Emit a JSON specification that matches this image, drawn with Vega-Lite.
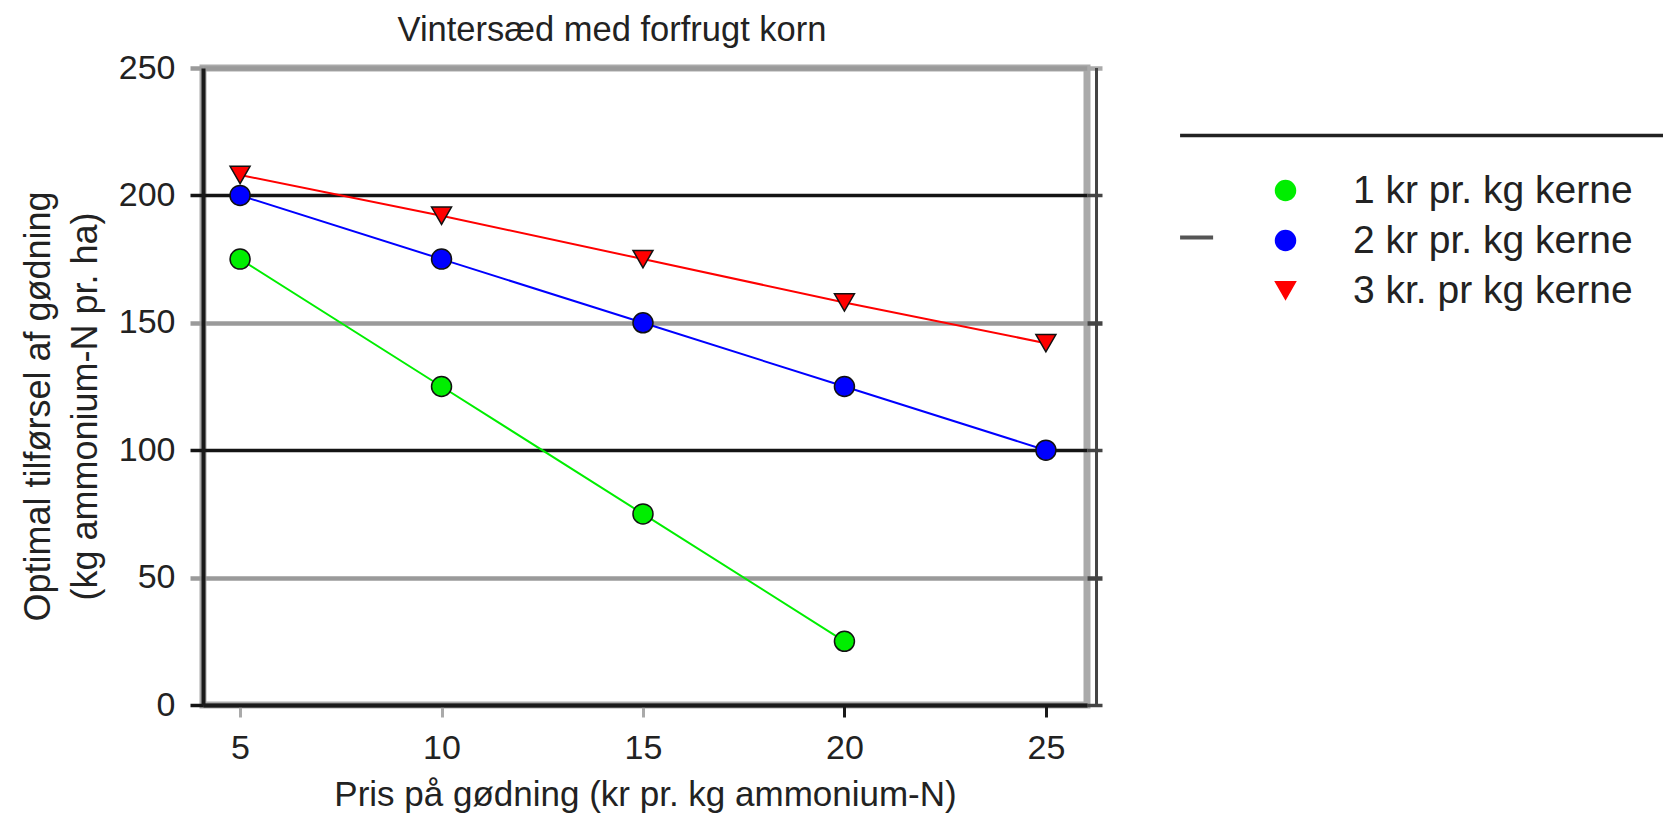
{
  "$schema": "https://vega.github.io/schema/vega-lite/v6.json",
  "width": 884,
  "height": 637,
  "autosize": {"type": "none"},
  "padding": {"left": 203, "top": 68, "right": 576, "bottom": 112},
  "background": "white",
  "config": {
    "font": "Liberation Sans",
    "view": {"stroke": "#aaaaaa", "strokeWidth": 7},
    "axis": {"labelFont": "Liberation Sans", "titleFont": "Liberation Sans"},
    "legend": {"labelFont": "Liberation Sans"}
  },
  "title": {
    "text": "Vintersæd med forfrugt korn",
    "font": "Liberation Sans",
    "fontSize": 34.5,
    "fontWeight": "normal",
    "color": "#222222",
    "anchor": "middle",
    "offset": 3,
    "dx": -33
  },
  "data": {
    "values": [
      {"serie": "1 kr pr. kg kerne", "pris": 5, "optimal": 175},
      {"serie": "1 kr pr. kg kerne", "pris": 10, "optimal": 125},
      {"serie": "1 kr pr. kg kerne", "pris": 15, "optimal": 75},
      {"serie": "1 kr pr. kg kerne", "pris": 20, "optimal": 25},
      {"serie": "2 kr pr. kg kerne", "pris": 5, "optimal": 200},
      {"serie": "2 kr pr. kg kerne", "pris": 10, "optimal": 175},
      {"serie": "2 kr pr. kg kerne", "pris": 15, "optimal": 150},
      {"serie": "2 kr pr. kg kerne", "pris": 20, "optimal": 125},
      {"serie": "2 kr pr. kg kerne", "pris": 25, "optimal": 100},
      {"serie": "3 kr. pr kg kerne", "pris": 5, "optimal": 208},
      {"serie": "3 kr. pr kg kerne", "pris": 10, "optimal": 192},
      {"serie": "3 kr. pr kg kerne", "pris": 15, "optimal": 175},
      {"serie": "3 kr. pr kg kerne", "pris": 20, "optimal": 158},
      {"serie": "3 kr. pr kg kerne", "pris": 25, "optimal": 142}
    ]
  },
  "resolve": {"axis": {"y": "independent"}},
  "layer": [
    {
      "layer": [
        {
          "mark": {"type": "line", "strokeWidth": 2, "clip": false},
          "encoding": {
            "x": {
              "field": "pris",
              "type": "quantitative",
              "scale": {"domain": [4.08, 26.02], "nice": false, "zero": false},
              "axis": {
                "values": [5, 10, 15, 20, 25],
                "title": "Pris på gødning (kr pr. kg ammonium-N)",
                "titleFontSize": 35,
                "titleFontWeight": "normal",
                "titleColor": "#222222",
                "titlePadding": 12,
                "labelFontSize": 34,
                "labelColor": "#222222",
                "labelPadding": 14,
                "labelFlush": false,
                "labelOverlap": false,
                "tickSize": 12,
                "tickWidth": 3,
                "tickColor": {"condition": {"test": "datum.value >= 20", "value": "#1a1a1a"}, "value": "#aaaaaa"},
                "domainColor": "#1a1a1a",
                "domainWidth": 4,
                "grid": false
              }
            },
            "y": {
              "field": "optimal",
              "type": "quantitative",
              "scale": {"domain": [0, 250], "nice": false, "zero": true},
              "axis": {
                "orient": "left",
                "values": [0, 50, 100, 150, 200, 250],
                "title": ["Optimal tilførsel af gødning", "(kg ammonium-N pr. ha)"],
                "titleFontSize": 36,
                "titleFontWeight": "normal",
                "titleColor": "#222222",
                "titleLineHeight": 47,
                "titlePadding": 14,
                "titleY": 338,
                "labelFontSize": 34,
                "labelColor": "#222222",
                "labelPadding": 15,
                "labelFlush": false,
                "labelOverlap": false,
                "tickSize": 13,
                "tickWidth": {"condition": {"test": "datum.value % 100 === 0", "value": 3.5}, "value": 4.5},
                "tickColor": {"condition": {"test": "datum.value % 100 === 0", "value": "#141414"}, "value": "#9a9a9a"},
                "domainColor": "#1a1a1a",
                "domainWidth": 4,
                "grid": true,
                "gridWidth": {"condition": {"test": "datum.value % 100 === 0", "value": 3.5}, "value": 4.5},
                "gridColor": {"condition": {"test": "datum.value % 100 === 0", "value": "#141414"}, "value": "#9a9a9a"}
              }
            },
            "color": {
              "field": "serie",
              "type": "nominal",
              "scale": {"domain": ["1 kr pr. kg kerne", "2 kr pr. kg kerne", "3 kr. pr kg kerne"], "range": ["#00ee00", "#0000ff", "#ff0000"]}
            }
          }
        },
        {
          "mark": {"type": "point", "filled": true, "opacity": 1, "stroke": "#111111", "strokeWidth": 1.5, "clip": false},
          "encoding": {
            "x": {"field": "pris", "type": "quantitative"},
            "y": {"field": "optimal", "type": "quantitative"},
            "color": {
              "field": "serie",
              "type": "nominal",
              "legend": {
                "title": null,
                "orient": "none",
                "legendX": 1063,
                "legendY": 103,
                "padding": 0,
                "labelFontSize": 39,
                "labelLimit": 600,
                "labelColor": "#222222",
                "labelOffset": 48,
                "symbolStrokeWidth": 1.5,
                "rowPadding": 10
              }
            },
            "shape": {
              "field": "serie",
              "type": "nominal",
              "scale": {"domain": ["1 kr pr. kg kerne", "2 kr pr. kg kerne", "3 kr. pr kg kerne"], "range": ["circle", "circle", "triangle-down"]},
              "legend": null
            },
            "size": {
              "field": "serie",
              "type": "nominal",
              "scale": {"domain": ["1 kr pr. kg kerne", "2 kr pr. kg kerne", "3 kr. pr kg kerne"], "range": [400, 400, 560]},
              "legend": null
            }
          }
        },
        {
          "data": {"values": [{}]},
          "mark": {"type": "rule", "color": "#444444", "strokeWidth": 3, "clip": false},
          "encoding": {"x": {"datum": 26.256, "type": "quantitative"}}
        },
        {
          "data": {"values": [{}]},
          "mark": {"type": "rule", "color": "#222222", "strokeWidth": 3.5, "clip": false},
          "encoding": {
            "x": {"datum": 28.33, "type": "quantitative"},
            "x2": {"datum": 41.5},
            "y": {"datum": 223.5, "type": "quantitative"}
          }
        },
        {
          "data": {"values": [{}]},
          "mark": {"type": "rule", "color": "#555555", "strokeWidth": 4, "clip": false},
          "encoding": {
            "x": {"datum": 28.33, "type": "quantitative"},
            "x2": {"datum": 29.15},
            "y": {"datum": 183.5, "type": "quantitative"}
          }
        }
      ]
    },
    {
      "mark": {"type": "point", "opacity": 0},
      "encoding": {
        "x": {"field": "pris", "type": "quantitative"},
        "y": {
          "field": "optimal",
          "type": "quantitative",
          "axis": {
            "orient": "right",
            "values": [0, 50, 100, 150, 200, 250],
            "title": null,
            "labels": false,
            "domain": false,
            "grid": false,
            "tickSize": 15,
            "tickWidth": {"condition": {"test": "datum.value % 100 === 0", "value": 3.5}, "value": 4.5},
            "tickColor": {"condition": {"test": "datum.value === 250", "value": "#aaaaaa"}, "value": "#444444"}
          }
        }
      }
    }
  ]
}
